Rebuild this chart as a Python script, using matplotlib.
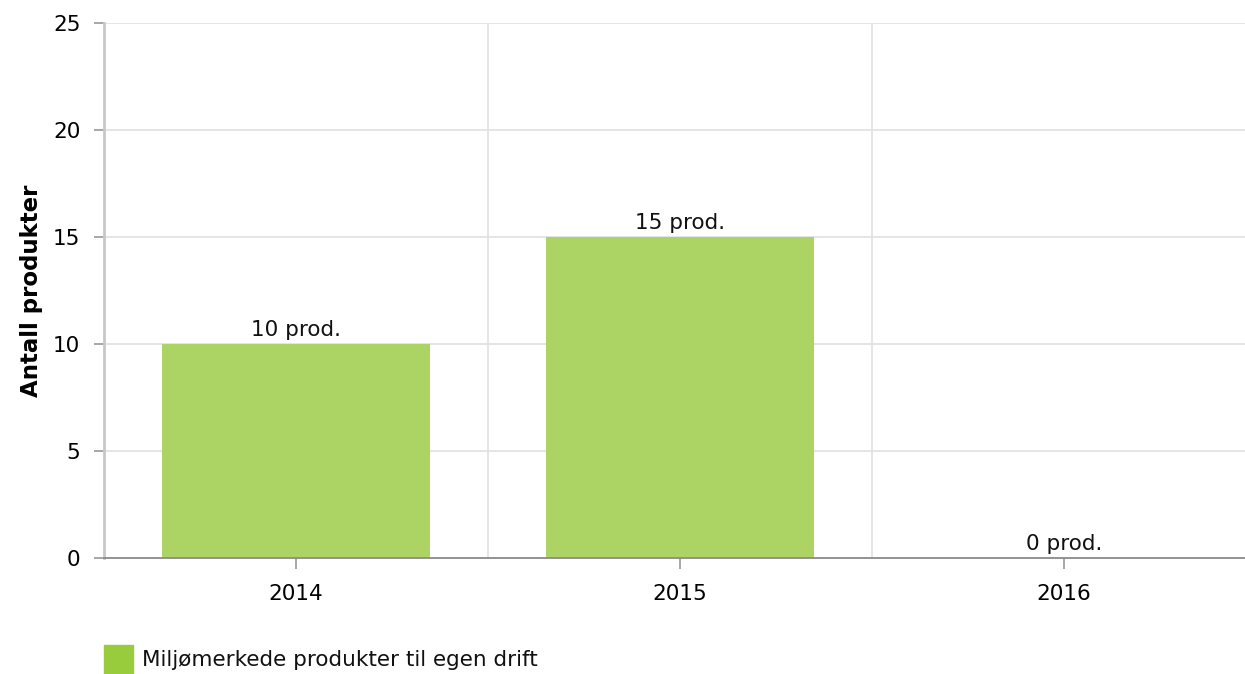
import matplotlib.pyplot as plt
import matplotlib.patches as mpatches

# data
years = ['2014', '2015', '2016']
values = [10, 15, 0]
labels = ['10 prod.', '15 prod.', '0 prod.']
yticks = [0, 5, 10, 15, 20, 25]

plt.rcParams['font.family'] = ['DejaVu Sans']

fig = plt.figure(figsize=(12.45, 6.74), dpi=100)
ax = fig.add_axes([104/1245, 1-558/674, 1-104/1245, (558-23)/674])

x = list(range(len(years)))
ax.bar(x, values, width=0.70, color='#acd464', zorder=2)
for xi, v, lab in zip(x, values, labels):
    ax.text(xi, v + 0.2, lab, ha='center', va='bottom', fontsize=15.5, color='#111111', zorder=3)

ax.set_xlim(-0.5, 2.5 - 11/384)
ax.set_ylim(0, 25)
ax.set_yticks(yticks)
ax.set_xticks(x)
ax.set_xticklabels(years)

# grid lines
for yy in yticks[1:]:
    ax.axhline(yy, color='#e3e3e3', lw=1.3, zorder=0)
for xb in [0.5, 1.5]:
    ax.axvline(xb, color='#e3e3e3', lw=1.3, zorder=0)

for s in ['top', 'right']:
    ax.spines[s].set_visible(False)
ax.spines['left'].set_color('#c8c8c8')
ax.spines['left'].set_linewidth(2)
ax.spines['bottom'].set_color('#8a8a8a')
ax.spines['bottom'].set_linewidth(1.3)
ax.spines['bottom'].set_zorder(4)

ax.tick_params(axis='y', length=7, width=1.3, color='#a0a0a0', labelsize=15.5, pad=10)
ax.tick_params(axis='x', length=8, width=1.3, color='#a0a0a0', labelsize=15.5, pad=11)

ax.set_ylabel('Antall produkter', fontsize=16.5, fontweight='bold', labelpad=7)

# legend
fig.patches.append(mpatches.Rectangle((104/1245, 0), 29/1245, 29/674,
                                      transform=fig.transFigure, color='#98cc3c'))
fig.text(142/1245, 1-660/674, 'Miljømerkede produkter til egen drift',
         fontsize=15.5, va='center', ha='left', color='#111111')

fig.savefig('out.png', dpi=100)
